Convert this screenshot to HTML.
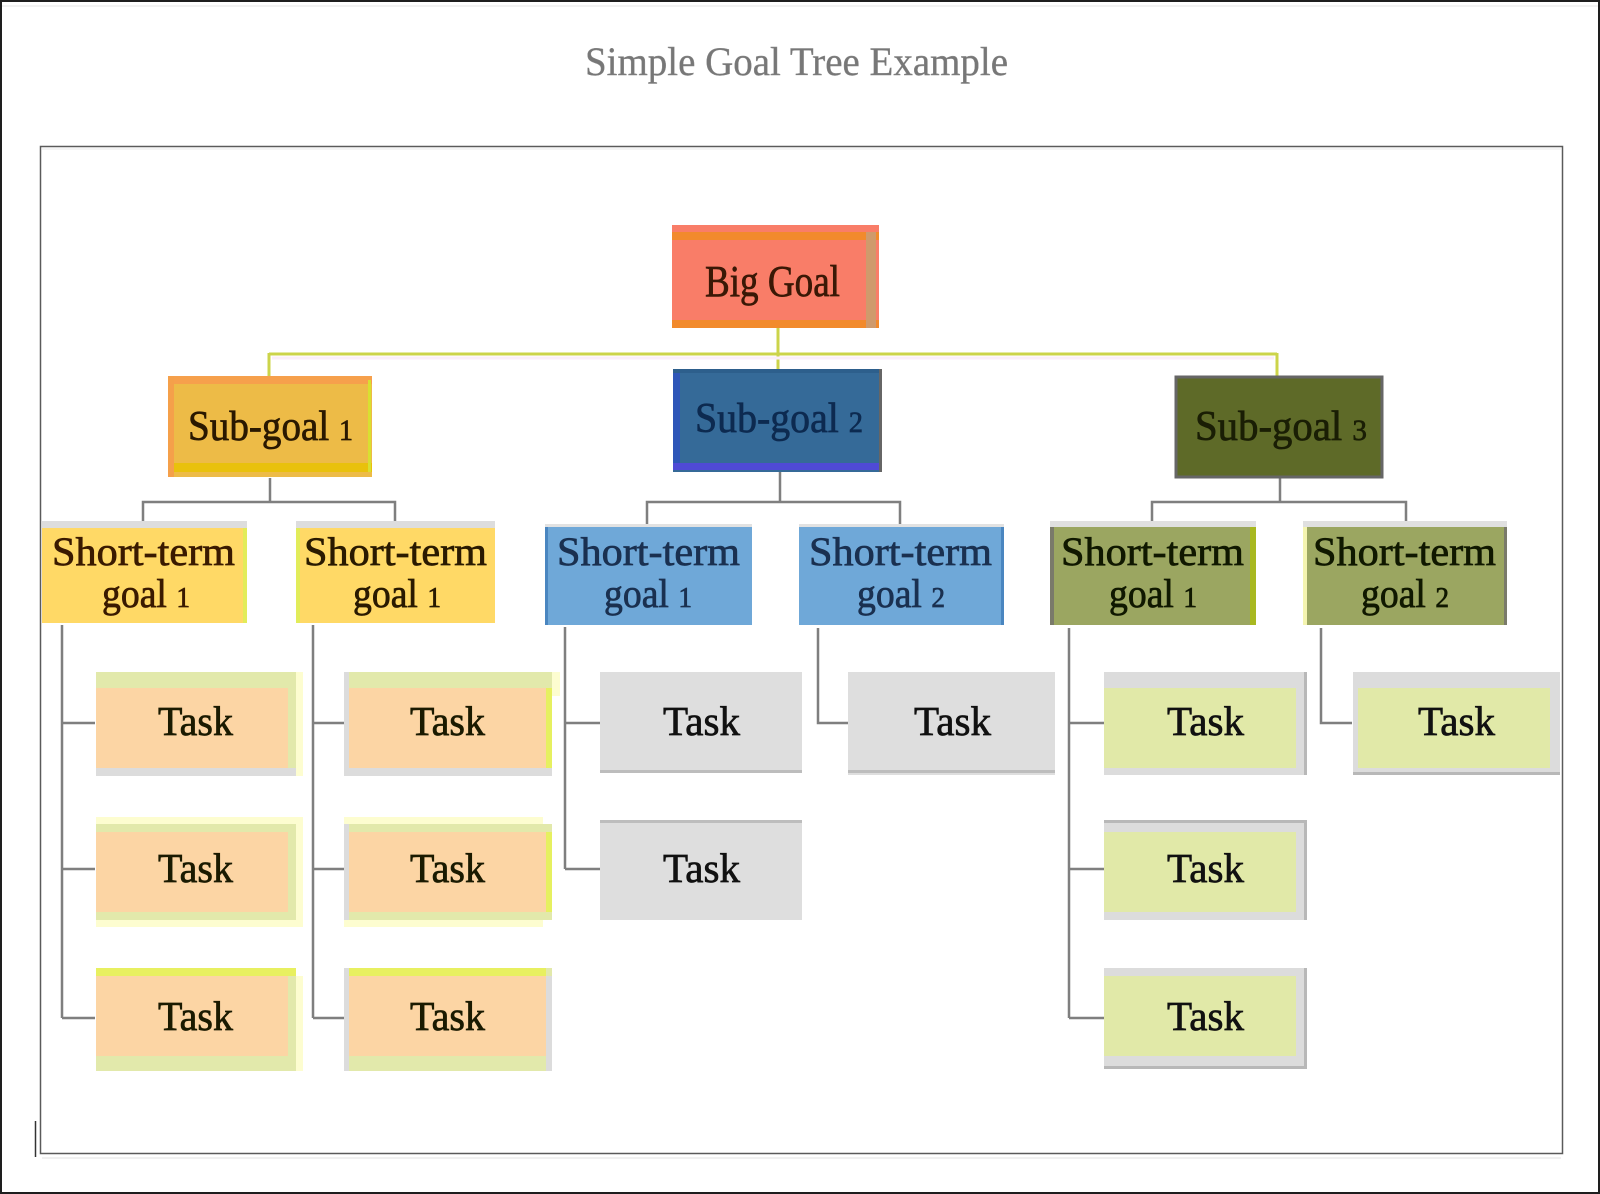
<!DOCTYPE html>
<html>
<head>
<meta charset="utf-8">
<style>
html,body{margin:0;padding:0;background:#fff;}
svg{display:block;}
text{font-family:"Liberation Serif","DejaVu Serif",serif;}
.lb{stroke-width:0.7;}
</style>
</head>
<body>
<svg width="1600" height="1194" viewBox="0 0 1600 1194" xmlns="http://www.w3.org/2000/svg">
  <!-- outer border -->
  <rect x="0" y="0" width="1600" height="1194" fill="#fff"/>
  <rect x="1" y="1" width="1598" height="1192" fill="none" stroke="#1e1e1e" stroke-width="2"/>
  <line x1="2" y1="6" x2="1598" y2="6" stroke="#e6e6e6" stroke-width="1"/>

  <!-- title -->
  <text x="585" y="75" font-size="40" fill="#777" stroke="#888" stroke-width="0.4" textLength="423" lengthAdjust="spacingAndGlyphs">Simple Goal Tree Example</text>

  <!-- inner frame -->
  <rect x="40.5" y="146.5" width="1522" height="1007" fill="none" stroke="#5a5a5a" stroke-width="1.5"/>
  <line x1="42" y1="149" x2="1561" y2="149" stroke="#e8e8e8" stroke-width="1"/>
  <line x1="42" y1="1158" x2="1561" y2="1158" stroke="#ececec" stroke-width="1.5"/>
  <line x1="35.5" y1="1121" x2="35.5" y2="1157" stroke="#333" stroke-width="1.5"/>

  <!-- yellow connectors -->
  <g stroke="#ccd44a" stroke-width="3" fill="none">
    <line x1="778" y1="328" x2="778" y2="369"/>
    <line x1="269" y1="354" x2="1277" y2="354"/>
    <line x1="269" y1="353" x2="269" y2="376"/>
    <line x1="1277" y1="353" x2="1277" y2="377"/>
  </g>
  <line x1="272" y1="358" x2="1274" y2="358" stroke="#fbeef8" stroke-width="3"/>

  <!-- gray connectors -->
  <g stroke="#7f7f7f" stroke-width="2.5" fill="none">
    <line x1="270" y1="478" x2="270" y2="502"/>
    <polyline points="143,522 143,502 395,502 395,522"/>
    <line x1="780" y1="472" x2="780" y2="502"/>
    <polyline points="647,527 647,502 900,502 900,527"/>
    <line x1="1280" y1="478" x2="1280" y2="502"/>
    <polyline points="1152,522 1152,502 1406,502 1406,522"/>

    <line x1="62" y1="625" x2="62" y2="1018"/>
    <line x1="62" y1="723" x2="95" y2="723"/>
    <line x1="62" y1="869" x2="95" y2="869"/>
    <line x1="62" y1="1018" x2="95" y2="1018"/>

    <line x1="313" y1="625" x2="313" y2="1018"/>
    <line x1="313" y1="723" x2="344" y2="723"/>
    <line x1="313" y1="869" x2="344" y2="869"/>
    <line x1="313" y1="1018" x2="344" y2="1018"/>

    <line x1="565" y1="627" x2="565" y2="869"/>
    <line x1="565" y1="723" x2="600" y2="723"/>
    <line x1="565" y1="869" x2="600" y2="869"/>

    <polyline points="818,628 818,723 848,723"/>

    <line x1="1069" y1="628" x2="1069" y2="1018"/>
    <line x1="1069" y1="723" x2="1104" y2="723"/>
    <line x1="1069" y1="869" x2="1104" y2="869"/>
    <line x1="1069" y1="1018" x2="1104" y2="1018"/>

    <polyline points="1321,628 1321,723 1352,723"/>
  </g>

  <!-- Big Goal -->
  <rect x="672" y="225" width="207" height="103" fill="#f97d68"/>
  <rect x="672" y="232" width="207" height="8" fill="#f28a2c"/>
  <rect x="672" y="320" width="207" height="8" fill="#f28a2c"/>
  <rect x="866" y="232" width="10" height="96" fill="#cf9a6c"/>
  <text class="lb" x="705" y="296" font-size="44" fill="#3a1806" stroke="#3a1806" textLength="135" lengthAdjust="spacingAndGlyphs">Big Goal</text>

  <!-- Sub-goal 1 -->
  <rect x="168" y="376" width="204" height="101" fill="#edbb47"/>
  <rect x="168" y="376" width="204" height="8" fill="#f6a04c"/>
  <rect x="168" y="463" width="204" height="9" fill="#e9c10c"/>
  <rect x="168" y="376" width="6" height="101" fill="#f5a04a"/>
  <rect x="368" y="380" width="3" height="92" fill="#d8e030"/>
  <text class="lb" x="188" y="440" font-size="42" fill="#2a1800" stroke="#2a1800" textLength="165" lengthAdjust="spacingAndGlyphs">Sub-goal <tspan font-size="30">1</tspan></text>

  <!-- Sub-goal 2 -->
  <rect x="673" y="369" width="209" height="103" fill="#356a98"/>
  <rect x="673" y="369" width="209" height="4" fill="#2d5f8c"/>
  <rect x="673" y="373" width="7" height="95" fill="#2e56b8"/>
  <rect x="673" y="463" width="209" height="7" fill="#4f4ad6"/>
  <rect x="879" y="369" width="3" height="103" fill="#666"/>
  <text class="lb" x="695" y="432" font-size="42" fill="#0d2a50" stroke="#0d2a50" textLength="168" lengthAdjust="spacingAndGlyphs">Sub-goal <tspan font-size="30">2</tspan></text>

  <!-- Sub-goal 3 -->
  <rect x="1176" y="377" width="206" height="100" fill="#5e6a28"/>
  <rect x="1176" y="377" width="206" height="100" fill="none" stroke="#666" stroke-width="3"/>
  <text class="lb" x="1195" y="440" font-size="42" fill="#1a1e05" stroke="#1a1e05" textLength="172" lengthAdjust="spacingAndGlyphs">Sub-goal <tspan font-size="30">3</tspan></text>

  <!-- Short-term goals -->
  <g>
    <rect x="42" y="521" width="205" height="7" fill="#dddddd"/>
    <rect x="42" y="528" width="205" height="95" fill="#ffd966"/>
    <rect x="243" y="528" width="4" height="95" fill="#e2ec5a"/>
    <text class="lb" x="52" y="565" font-size="40" fill="#3a1a00" stroke="#3a1a00" textLength="183" lengthAdjust="spacingAndGlyphs">Short-term</text>
    <text class="lb" x="102" y="607" font-size="40" fill="#3a1a00" stroke="#3a1a00" textLength="88" lengthAdjust="spacingAndGlyphs">goal <tspan font-size="29">1</tspan></text>

    <rect x="296" y="521" width="199" height="7" fill="#dddddd"/>
    <rect x="296" y="528" width="199" height="95" fill="#ffd966"/>
    <rect x="296" y="528" width="4" height="95" fill="#e2ec5a"/>
    <text class="lb" x="304" y="565" font-size="40" fill="#2a1a00" stroke="#2a1a00" textLength="183" lengthAdjust="spacingAndGlyphs">Short-term</text>
    <text class="lb" x="353" y="607" font-size="40" fill="#2a1a00" stroke="#2a1a00" textLength="88" lengthAdjust="spacingAndGlyphs">goal <tspan font-size="29">1</tspan></text>

    <rect x="545" y="524" width="207" height="3" fill="#e2e2e2"/>
    <rect x="545" y="527" width="207" height="98" fill="#6fa8d8"/>
    <rect x="545" y="527" width="3" height="98" fill="#4a86c0"/>
    <text class="lb" x="557" y="565" font-size="40" fill="#1a3050" stroke="#1a3050" textLength="183" lengthAdjust="spacingAndGlyphs">Short-term</text>
    <text class="lb" x="604" y="607" font-size="40" fill="#1a3050" stroke="#1a3050" textLength="88" lengthAdjust="spacingAndGlyphs">goal <tspan font-size="29">1</tspan></text>

    <rect x="799" y="524" width="205" height="3" fill="#e2e2e2"/>
    <rect x="799" y="527" width="205" height="98" fill="#6fa8d8"/>
    <rect x="1001" y="527" width="3" height="98" fill="#4a86c0"/>
    <text class="lb" x="809" y="565" font-size="40" fill="#1a3050" stroke="#1a3050" textLength="183" lengthAdjust="spacingAndGlyphs">Short-term</text>
    <text class="lb" x="857" y="607" font-size="40" fill="#1a3050" stroke="#1a3050" textLength="88" lengthAdjust="spacingAndGlyphs">goal <tspan font-size="29">2</tspan></text>

    <rect x="1050" y="521" width="206" height="6" fill="#e0e0e0"/>
    <rect x="1050" y="527" width="206" height="98" fill="#9ba661"/>
    <rect x="1050" y="527" width="4" height="98" fill="#7a7a6a"/>
    <rect x="1250" y="527" width="6" height="98" fill="#a8b820"/>
    <text class="lb" x="1061" y="565" font-size="40" fill="#101800" stroke="#101800" textLength="183" lengthAdjust="spacingAndGlyphs">Short-term</text>
    <text class="lb" x="1109" y="607" font-size="40" fill="#101800" stroke="#101800" textLength="88" lengthAdjust="spacingAndGlyphs">goal <tspan font-size="29">1</tspan></text>

    <rect x="1303" y="521" width="204" height="6" fill="#e0e0e0"/>
    <rect x="1303" y="527" width="204" height="98" fill="#9ba661"/>
    <rect x="1303" y="527" width="4" height="98" fill="#f4f4b0"/>
    <rect x="1504" y="527" width="3" height="98" fill="#7a7a6a"/>
    <text class="lb" x="1313" y="565" font-size="40" fill="#101800" stroke="#101800" textLength="183" lengthAdjust="spacingAndGlyphs">Short-term</text>
    <text class="lb" x="1361" y="607" font-size="40" fill="#101800" stroke="#101800" textLength="88" lengthAdjust="spacingAndGlyphs">goal <tspan font-size="29">2</tspan></text>
  </g>

  <!-- Peach tasks -->
  <g>
    <rect x="96" y="672" width="200" height="96" fill="#e2e9ab"/>
    <rect x="296" y="672" width="7" height="104" fill="#fdfdd0"/>
    <rect x="96" y="688" width="192" height="80" fill="#fcd5a4"/>
    <rect x="96" y="768" width="200" height="8" fill="#dcdcdc"/>

    <rect x="96" y="817" width="207" height="110" fill="#fdfdd0"/>
    <rect x="96" y="824" width="200" height="96" fill="#e2e9ab"/>
    <rect x="96" y="832" width="192" height="80" fill="#fcd5a4"/>

    <rect x="96" y="968" width="200" height="8" fill="#e8f060"/>
    <rect x="96" y="976" width="200" height="95" fill="#e2e9ab"/>
    <rect x="96" y="976" width="192" height="80" fill="#fcd5a4"/>
    <rect x="296" y="976" width="7" height="95" fill="#fdfdd0"/>

    <rect x="344" y="672" width="216" height="24" fill="#fdfdd0"/>
    <rect x="344" y="672" width="208" height="104" fill="#e2e9ab"/>
    <rect x="344" y="672" width="5" height="104" fill="#dcdcdc"/>
    <rect x="349" y="688" width="197" height="80" fill="#fcd5a4"/>
    <rect x="546" y="688" width="6" height="80" fill="#e6f060"/>
    <rect x="349" y="768" width="203" height="8" fill="#dcdcdc"/>

    <rect x="344" y="817" width="199" height="110" fill="#fdfdd0"/>
    <rect x="344" y="824" width="208" height="96" fill="#e2e9ab"/>
    <rect x="344" y="824" width="5" height="96" fill="#dcdcdc"/>
    <rect x="349" y="832" width="197" height="80" fill="#fcd5a4"/>
    <rect x="546" y="832" width="6" height="80" fill="#e6f060"/>

    <rect x="344" y="968" width="208" height="103" fill="#e2e9ab"/>
    <rect x="344" y="968" width="5" height="103" fill="#dcdcdc"/>
    <rect x="349" y="968" width="197" height="8" fill="#e8f060"/>
    <rect x="349" y="976" width="197" height="80" fill="#fcd5a4"/>
    <rect x="546" y="976" width="6" height="95" fill="#dcdcdc"/>
  </g>

  <!-- Gray tasks -->
  <g>
    <rect x="600" y="672" width="202" height="98" fill="#dedede"/>
    <rect x="600" y="770" width="202" height="3" fill="#bdbdbd"/>
    <rect x="600" y="822" width="202" height="98" fill="#dedede"/>
    <rect x="600" y="820" width="202" height="3" fill="#bdbdbd"/>
    <rect x="848" y="672" width="207" height="103" fill="#dedede"/>
    <rect x="848" y="770" width="207" height="3" fill="#bdbdbd"/>
  </g>

  <!-- Olive tasks -->
  <g>
    <rect x="1104" y="672" width="203" height="103" fill="#dcdcdc"/>
    <rect x="1104" y="688" width="192" height="80" fill="#e1e9a8"/>
    <rect x="1304" y="672" width="3" height="103" fill="#b8b8b8"/>

    <rect x="1104" y="820" width="203" height="100" fill="#dcdcdc"/>
    <rect x="1104" y="820" width="203" height="3" fill="#b8b8b8"/>
    <rect x="1104" y="832" width="192" height="80" fill="#e1e9a8"/>
    <rect x="1304" y="820" width="3" height="100" fill="#b8b8b8"/>

    <rect x="1104" y="968" width="203" height="100" fill="#dcdcdc"/>
    <rect x="1104" y="976" width="192" height="80" fill="#e1e9a8"/>
    <rect x="1304" y="968" width="3" height="100" fill="#b8b8b8"/>
    <rect x="1104" y="1066" width="203" height="3" fill="#b8b8b8"/>

    <rect x="1353" y="672" width="207" height="103" fill="#dcdcdc"/>
    <rect x="1358" y="688" width="192" height="80" fill="#e1e9a8"/>
    <rect x="1353" y="772" width="207" height="3" fill="#b8b8b8"/>
  </g>

  <!-- Task labels -->
  <g font-size="41" fill="#1a1a00" stroke="#1a1a00" stroke-width="0.7">
    <text x="158" y="735" textLength="75" lengthAdjust="spacingAndGlyphs">Task</text>
    <text x="158" y="882" textLength="75" lengthAdjust="spacingAndGlyphs">Task</text>
    <text x="158" y="1030" textLength="75" lengthAdjust="spacingAndGlyphs">Task</text>
    <text x="410" y="735" textLength="75" lengthAdjust="spacingAndGlyphs">Task</text>
    <text x="410" y="882" textLength="75" lengthAdjust="spacingAndGlyphs">Task</text>
    <text x="410" y="1030" textLength="75" lengthAdjust="spacingAndGlyphs">Task</text>
  </g>
  <g font-size="41" fill="#111" stroke="#111" stroke-width="0.7">
    <text x="663" y="735" textLength="77" lengthAdjust="spacingAndGlyphs">Task</text>
    <text x="663" y="882" textLength="77" lengthAdjust="spacingAndGlyphs">Task</text>
    <text x="914" y="735" textLength="77" lengthAdjust="spacingAndGlyphs">Task</text>
    <text x="1167" y="735" textLength="77" lengthAdjust="spacingAndGlyphs">Task</text>
    <text x="1167" y="882" textLength="77" lengthAdjust="spacingAndGlyphs">Task</text>
    <text x="1167" y="1030" textLength="77" lengthAdjust="spacingAndGlyphs">Task</text>
    <text x="1418" y="735" textLength="77" lengthAdjust="spacingAndGlyphs">Task</text>
  </g>
</svg>
</body>
</html>
